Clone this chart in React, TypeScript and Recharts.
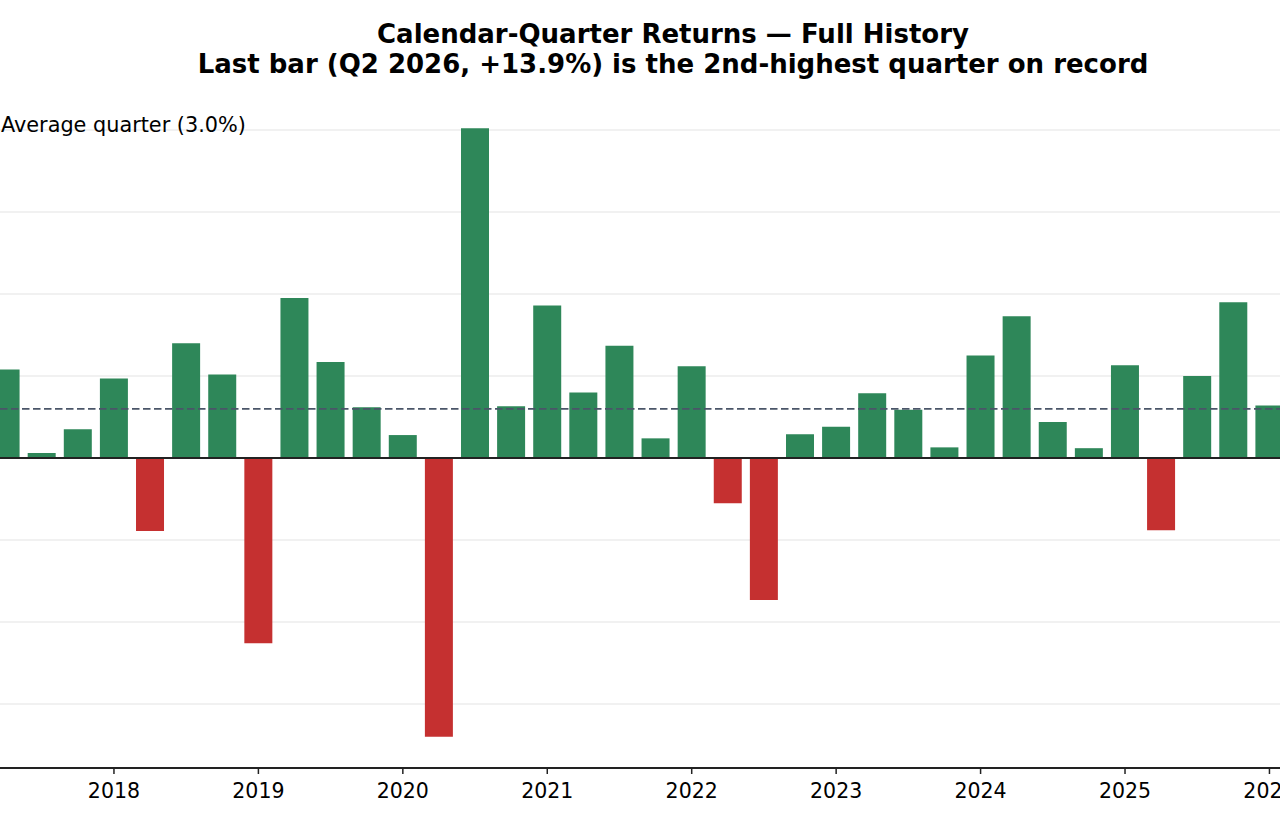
import React from "react";
import {
  BarChart,
  Bar,
  XAxis,
  YAxis,
  CartesianGrid,
  ReferenceLine,
  Cell,
} from "recharts";

// quarter labels, returns in %
const quarters = [
  "Q1 2017", "Q2 2017", "Q3 2017", "Q4 2017",
  "Q1 2018", "Q2 2018", "Q3 2018", "Q4 2018",
  "Q1 2019", "Q2 2019", "Q3 2019", "Q4 2019",
  "Q1 2020", "Q2 2020", "Q3 2020", "Q4 2020",
  "Q1 2021", "Q2 2021", "Q3 2021", "Q4 2021",
  "Q1 2022", "Q2 2022", "Q3 2022", "Q4 2022",
  "Q1 2023", "Q2 2023", "Q3 2023", "Q4 2023",
  "Q1 2024", "Q2 2024", "Q3 2024", "Q4 2024",
  "Q1 2025", "Q2 2025", "Q3 2025", "Q4 2025",
  "Q1 2026", "Q2 2026",
];

const returns = [
  5.4, 0.3, 1.75, 4.85,
  -4.45, 7.0, 5.1, -11.3,
  9.75, 5.85, 3.1, 1.4,
  -17.0, 20.1, 3.15, 9.3,
  4.0, 6.85, 1.2, 5.6,
  -2.75, -8.65, 1.45, 1.9,
  3.95, 2.95, 0.65, 6.25,
  8.65, 2.2, 0.6, 5.65,
  -4.4, 5.0, 9.5, 3.2,
  2.1, 13.9,
];

const yearTicks = [2018, 2019, 2020, 2021, 2022, 2023, 2024, 2025, 2026];
const gridTicks = [-15, -10, -5, 0, 5, 10, 15, 20];
const averageReturn = 3.0;

const GREEN = "#2e8759";
const RED = "#c53030";

// bars sit on the quarter-end date (as a fractional year)
const data = quarters.map((q, i) => {
  const [qq, yy] = q.split(" ");
  return { quarter: q, t: Number(yy) + Number(qq.slice(1)) / 4, ret: returns[i] };
});

const font = "'DejaVu Sans', sans-serif";

export default function App() {
  return (
    <div
      style={{
        position: "relative",
        width: 1280,
        height: 825,
        overflow: "hidden",
        background: "#fff",
        fontFamily: font,
      }}
    >
      <style>{"body{margin:0}"}</style>
      <div
        style={{
          position: "absolute",
          left: 673,
          top: 19,
          transform: "translateX(-50%)",
          whiteSpace: "nowrap",
          textAlign: "center",
          fontWeight: "bold",
          fontSize: 26,
          lineHeight: "30px",
          color: "#000",
          zIndex: 2,
        }}
      >
        <div>Calendar-Quarter Returns — Full History</div>
        <div>Last bar (Q2 2026, +13.9%) is the 2nd-highest quarter on record</div>
      </div>
      <div
        style={{
          position: "absolute",
          left: 1,
          top: 115,
          fontSize: 20.8,
          lineHeight: 1,
          whiteSpace: "nowrap",
          color: "#000",
          zIndex: 2,
        }}
      >
        Average quarter ({averageReturn.toFixed(1)}%)
      </div>
      <BarChart
        width={1280}
        height={825}
        data={data}
        margin={{ top: 100, right: 0, bottom: 0, left: 0 }}
      >
        <XAxis
          dataKey="t"
          type="number"
          scale="linear"
          domain={[2017.211, 2026.073]}
          allowDataOverflow
          ticks={yearTicks}
          interval={0}
          height={57}
          tickSize={6}
          tickMargin={9}
          axisLine={{ stroke: "#222", strokeWidth: 2 }}
          tickLine={{ stroke: "#222", strokeWidth: 1.5 }}
          tick={{ fill: "#000", fontSize: 20.5, fontFamily: font }}
        />
        <YAxis
          type="number"
          domain={[-18.9, 21.83]}
          allowDataOverflow
          ticks={gridTicks}
          hide
        />
        <Bar dataKey="ret" barSize={28} isAnimationActive={false}>
          {data.map((d) => (
            <Cell key={d.quarter} fill={d.ret >= 0 ? GREEN : RED} />
          ))}
        </Bar>
        <CartesianGrid
          vertical={false}
          horizontalValues={gridTicks}
          stroke="#d4d4d4"
          strokeOpacity={0.45}
          strokeWidth={1.5}
        />
        <ReferenceLine
          y={averageReturn}
          stroke="#4a5568"
          strokeWidth={1.8}
          strokeDasharray="7.5 3.5"
        />
        <ReferenceLine y={0} stroke="#222" strokeWidth={2} />
      </BarChart>
    </div>
  );
}
